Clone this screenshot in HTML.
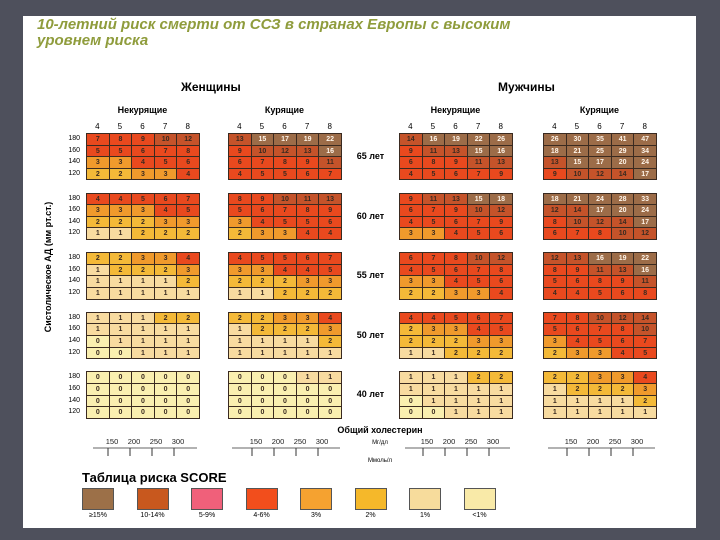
<!DOCTYPE html>
<html><head><meta charset="utf-8">
<style>
body{margin:0;width:720px;height:540px;background:#4e505c;overflow:hidden;font-family:"Liberation Sans","DejaVu Sans",sans-serif}
#panel{position:absolute;left:23px;top:16px;width:673px;height:512px;background:#fff}
.t{position:absolute;white-space:nowrap}
.cell{position:absolute;box-sizing:border-box;border-right:1px solid #3a2a20;border-bottom:1px solid #3a2a20;font-size:7px;font-weight:bold;text-align:center;line-height:11px;color:#3a2a20}
.grid{position:absolute;border-top:1px solid #3a2a20;border-left:1px solid #3a2a20;box-sizing:border-box}
</style></head><body>
<div id="panel"></div>
<div class="t" style="left:37px;top:17px;color:#8f9c3c;font-weight:bold;font-style:italic;font-size:15px;line-height:16px">10-летний риск смерти от ССЗ в странах Европы с высоким<br>уровнем риска</div>
<div class="t" style="left:181px;top:80px;font-weight:bold;font-size:12px">Женщины</div>
<div class="t" style="left:498px;top:80px;font-weight:bold;font-size:12px">Мужчины</div>
<div class="t" style="left:-22px;top:262px;transform:rotate(-90deg);font-size:9px;font-weight:bold;width:140px;text-align:center">Систолическое АД (мм рт.ст.)</div>
<div id="root"></div>
<svg id="axes" width="720" height="540" style="position:absolute;left:0;top:0"></svg>
<script>
const ages=["65 лет","60 лет","55 лет","50 лет","40 лет"];
const sbp=["180","160","140","120"];
const cholWomen=["4","5","6","7","8"];
const cholMen=["4","5","6","7","8"];
const womenNS=[[[7,8,9,10,12],[5,5,6,7,8],[3,3,4,5,6],[2,2,3,3,4]],[[4,4,5,6,7],[3,3,3,4,5],[2,2,2,3,3],[1,1,2,2,2]],[[2,2,3,3,4],[1,2,2,2,3],[1,1,1,1,2],[1,1,1,1,1]],[[1,1,1,2,2],[1,1,1,1,1],[0,1,1,1,1],[0,0,1,1,1]],[[0,0,0,0,0],[0,0,0,0,0],[0,0,0,0,0],[0,0,0,0,0]]];
const womenS=[[[13,15,17,19,22],[9,10,12,13,16],[6,7,8,9,11],[4,5,5,6,7]],[[8,9,10,11,13],[5,6,7,8,9],[3,4,5,5,6],[2,3,3,4,4]],[[4,5,5,6,7],[3,3,4,4,5],[2,2,2,3,3],[1,1,2,2,2]],[[2,2,3,3,4],[1,2,2,2,3],[1,1,1,1,2],[1,1,1,1,1]],[[0,0,0,1,1],[0,0,0,0,0],[0,0,0,0,0],[0,0,0,0,0]]];
const menNS=[[[14,16,19,22,26],[9,11,13,15,16],[6,8,9,11,13],[4,5,6,7,9]],[[9,11,13,15,18],[6,7,9,10,12],[4,5,6,7,9],[3,3,4,5,6]],[[6,7,8,10,12],[4,5,6,7,8],[3,3,4,5,6],[2,2,3,3,4]],[[4,4,5,6,7],[2,3,3,4,5],[2,2,2,3,3],[1,1,2,2,2]],[[1,1,1,2,2],[1,1,1,1,1],[0,1,1,1,1],[0,0,1,1,1]]];
const menS=[[[26,30,35,41,47],[18,21,25,29,34],[13,15,17,20,24],[9,10,12,14,17]],[[18,21,24,28,33],[12,14,17,20,24],[8,10,12,14,17],[6,7,8,10,12]],[[12,13,16,19,22],[8,9,11,13,16],[5,6,8,9,11],[4,4,5,6,8]],[[7,8,10,12,14],[5,6,7,8,10],[3,4,5,6,7],[2,3,3,4,5]],[[2,2,3,3,4],[1,2,2,2,3],[1,1,1,1,2],[1,1,1,1,1]]];
const cholTicks=["150","200","250","300"];
const legendLabels=["≥15%","10-14%","5-9%","4-6%","3%","2%","1%","<1%"];
const legendColors=["#9c7048","#c8581e","#f0607a","#f24e1c","#f5a230","#f5b82a","#f7dc9c","#f9eaa8"];

function col(v){if(v>=15)return"#9c6c48";if(v>=10)return"#c5532a";if(v>=4)return"#e9491e";if(v>=3)return"#f09a2c";if(v>=2)return"#f4b938";if(v>=1)return"#f8dba0";return"#faefb0";}
const root=document.getElementById('root');
const gridX=[86,228,399,543];const gridNames=["women-nonsmoker","women-smoker","men-nonsmoker","men-smoker"];
const datasets=[womenNS,womenS,menNS,menS];
const bandY=a=>133+a*59.6;const cw=22.6,rh=11.6;
function txt(x,y,s,st,name){const d=document.createElement('div');d.className='t';d.style.cssText=`left:${x}px;top:${y}px;`+st;d.textContent=s;


root.appendChild(d);return d;}
const subs=["Некурящие","Курящие","Некурящие","Курящие"];
gridX.forEach((gx,g)=>{
 txt(gx,105,subs[g],"width:"+(5*cw)+"px;text-align:center;font-weight:bold;font-size:9px","subheader-"+gridNames[g]);
 const ch=g<2?cholWomen:cholMen;
 ch.forEach((c,i)=>txt(gx+i*cw,122,c,"width:"+cw+"px;text-align:center;font-size:8px","chol-label"));
 ages.forEach((ag,a)=>{
  const gr=document.createElement('div');gr.className='grid';
  gr.style.cssText=`left:${gx}px;top:${bandY(a)}px;width:${5*cw+1}px;height:${4*rh+1}px`;
  
  
  root.appendChild(gr);
  datasets[g][a].forEach((row,r)=>row.forEach((v,c)=>{
   const e=document.createElement('div');e.className='cell';
   e.style.cssText=`left:${c*cw}px;top:${r*rh}px;width:${cw}px;height:${rh}px;background:${col(v)};color:${v>=15?'#fff4e8':'#3a2a20'}`;
   e.textContent=v;
   
   
   gr.appendChild(e);}));
  if(g==0){sbp.forEach((s,r)=>txt(gx-28,bandY(a)+r*rh+1,s,"width:22px;text-align:right;font-size:7px;line-height:10px","sbp-label"));}
 });
});
ages.forEach((ag,a)=>txt(342,bandY(a)+18,ag,"width:57px;text-align:center;font-weight:bold;font-size:9px","age-label"));
txt(320,425,"Общий холестерин","width:120px;text-align:center;font-weight:bold;font-size:9px","cholesterol-title");
txt(340,440,"Мг/дл","width:80px;text-align:center;font-size:6px","unit-mg");
txt(340,458,"Ммоль/л","width:80px;text-align:center;font-size:6px","unit-mmol");
const svg=document.getElementById('axes');const NS='http://www.w3.org/2000/svg';
const axX=[[93,197,108],[232,340,252],[405,510,423],[548,655,567]];
axX.forEach(([x0,x1,t0],k)=>{
 const l=document.createElementNS(NS,'line');l.setAttribute('x1',x0);l.setAttribute('x2',x1);l.setAttribute('y1',448);l.setAttribute('y2',448);l.setAttribute('stroke','#666');
 
 svg.appendChild(l);
 cholTicks.forEach((tk,i)=>{const x=t0+i*22;
  const t=document.createElementNS(NS,'line');t.setAttribute('x1',x);t.setAttribute('x2',x);t.setAttribute('y1',448);t.setAttribute('y2',456);t.setAttribute('stroke','#333');
  
  svg.appendChild(t);
  const s=document.createElementNS(NS,'text');s.setAttribute('x',x+4);s.setAttribute('y',444);s.setAttribute('font-size','7.5');s.setAttribute('text-anchor','middle');s.setAttribute('fill','#222');s.textContent=tk;
  
  svg.appendChild(s);});
});
txt(82,470,"Таблица риска SCORE","font-weight:bold;font-size:13px","legend-title");
legendLabels.forEach((lb,i)=>{const x=82+i*54.5;
 const b=document.createElement('div');b.style.cssText=`position:absolute;left:${x}px;top:488px;width:32px;height:22px;background:${legendColors[i]};border:1px solid #555;box-sizing:border-box`;
 
 
 root.appendChild(b);
 txt(x-8,512,lb,"width:48px;text-align:center;font-size:7px","legend-label");});
</script>
</body></html>
